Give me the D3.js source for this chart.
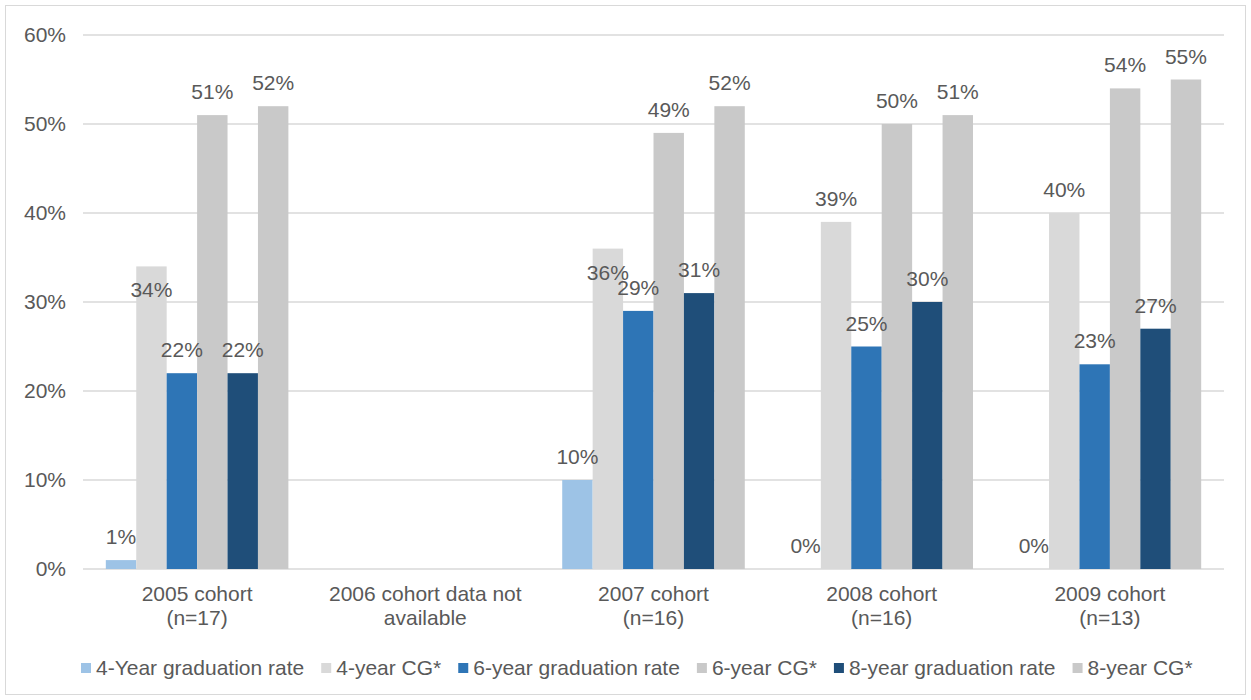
<!DOCTYPE html>
<html>
<head>
<meta charset="utf-8">
<script src="https://cdn.jsdelivr.net/npm/d3@7"></script>
<style>
  body { margin: 0; background: #fff; }
  text { font-family: "Liberation Sans", Arial, sans-serif; fill: #595959; }
</style>
</head>
<body>
<div id="chart"></div>
<script>
  // categories (two-line labels)
  var categories = [
    ["2005 cohort", "(n=17)"],
    ["2006 cohort data not", "available"],
    ["2007 cohort", "(n=16)"],
    ["2008 cohort", "(n=16)"],
    ["2009 cohort", "(n=13)"]
  ];

  var seriesNames = ["4-Year graduation rate", "4-year CG*", "6-year graduation rate",
                     "6-year CG*", "8-year graduation rate", "8-year CG*"];
  var seriesColors = ["#9DC3E6", "#D9D9D9", "#2E75B6", "#C9C9C9", "#1F4E79", "#C9C9C9"];

  // values in percent, null = no data
  var grad4 = [1, null, 10, 0, 0];
  var cg4   = [34, null, 36, 39, 40];
  var grad6 = [22, null, 29, 25, 23];
  var cg6   = [51, null, 49, 50, 54];
  var grad8 = [22, null, 31, 30, 27];
  var cg8   = [52, null, 52, 51, 55];

  var yTicks = [0, 10, 20, 30, 40, 50, 60];

  // labels that Excel placed inside the bar end (series index, category index)
  var insideLabels = [[1, 0], [1, 2]];

  var allSeries = [grad4, cg4, grad6, cg6, grad8, cg8];

  var W = 1251, H = 700;
  var margin = { top: 35, right: 27, bottom: 131, left: 83 };
  var width = W - margin.left - margin.right,
      height = H - margin.top - margin.bottom;

  var svg = d3.select("#chart").append("svg")
    .attr("width", W)
    .attr("height", H);

  // outer frame
  svg.append("rect")
    .attr("x", 5.5).attr("y", 5.5)
    .attr("width", W - 11).attr("height", H - 11)
    .attr("fill", "none")
    .attr("stroke", "#D9D9D9")
    .attr("stroke-width", 1);

  var g = svg.append("g")
    .attr("transform", "translate(" + margin.left + "," + margin.top + ")");

  var x0 = d3.scaleBand()
    .domain(d3.range(categories.length))
    .range([0, width])
    .padding(0);

  var x1 = d3.scaleBand()
    .domain(d3.range(allSeries.length))
    .range([0, x0.bandwidth()])
    .paddingInner(0)
    .paddingOuter(0.75);

  var y = d3.scaleLinear()
    .domain([0, 60])
    .range([height, 0]);

  // gridlines
  g.selectAll(".grid")
    .data(yTicks)
    .enter().append("line")
    .attr("x1", 0).attr("x2", width)
    .attr("y1", function(d) { return y(d); })
    .attr("y2", function(d) { return y(d); })
    .attr("stroke", "#D9D9D9")
    .attr("stroke-width", 1.3);

  // y tick labels
  g.selectAll(".ytick")
    .data(yTicks)
    .enter().append("text")
    .attr("x", -17)
    .attr("y", function(d) { return y(d) + 7; })
    .attr("text-anchor", "end")
    .style("font-size", "21px")
    .text(function(d) { return d + "%"; });

  // bars
  var groups = g.selectAll(".cat")
    .data(categories)
    .enter().append("g")
    .attr("transform", function(d, i) { return "translate(" + x0(i) + ",0)"; });

  groups.each(function(c, ci) {
    var grp = d3.select(this);
    allSeries.forEach(function(s, si) {
      var v = s[ci];
      if (v === null) return;
      grp.append("rect")
        .attr("x", x1(si))
        .attr("y", y(v))
        .attr("width", x1.bandwidth())
        .attr("height", height - y(v))
        .attr("fill", seriesColors[si]);
    });
  });

  // data labels on top
  groups.each(function(c, ci) {
    var grp = d3.select(this);
    allSeries.forEach(function(s, si) {
      var v = s[ci];
      if (v === null) return;
      var inside = insideLabels.some(function(p) { return p[0] === si && p[1] === ci; });
      grp.append("text")
        .attr("x", x1(si) + x1.bandwidth() / 2)
        .attr("y", inside ? y(v) + 31 : y(v) - 16)
        .attr("text-anchor", "middle")
        .style("font-size", "21px")
        .text(v + "%");
    });
  });

  // category labels
  groups.each(function(c, ci) {
    var t = d3.select(this).append("text")
      .attr("text-anchor", "middle")
      .style("font-size", "21px");
    c.forEach(function(line, li) {
      t.append("tspan")
        .attr("x", x0.bandwidth() / 2)
        .attr("y", height + 32 + li * 24)
        .text(line);
    });
  });

  // legend
  var legend = svg.append("g").attr("transform", "translate(81,0)");
  var lx = 0;
  seriesNames.forEach(function(name, i) {
    var item = legend.append("g").attr("transform", "translate(" + lx + ",0)");
    item.append("rect")
      .attr("x", 0).attr("y", 663)
      .attr("width", 10).attr("height", 10)
      .attr("fill", seriesColors[i]);
    var t = item.append("text")
      .attr("x", 15).attr("y", 675)
      .style("font-size", "21px")
      .text(name);
    lx += 15 + t.node().getComputedTextLength() + 17;
  });
</script>
</body>
</html>
